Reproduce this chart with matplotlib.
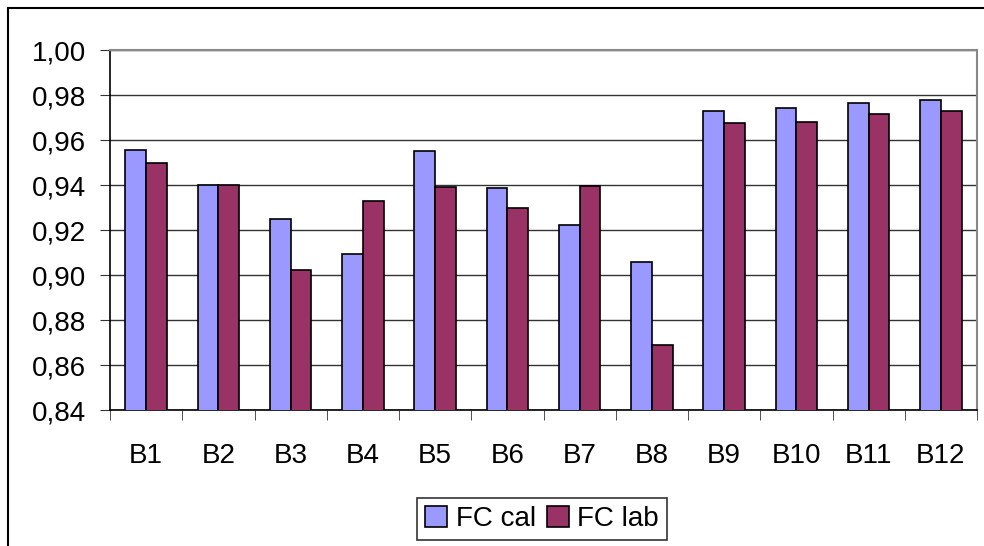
import matplotlib.pyplot as plt
import numpy as np

plt.rcParams['font.family'] = ['Liberation Sans', 'DejaVu Sans']

categories = ['B1', 'B2', 'B3', 'B4', 'B5', 'B6', 'B7', 'B8', 'B9', 'B10', 'B11', 'B12']
fc_cal = [0.9557, 0.940, 0.925, 0.9093, 0.9551, 0.9385, 0.9224, 0.9056, 0.9729, 0.9743, 0.9765, 0.9778]
fc_lab = [0.950, 0.940, 0.9022, 0.933, 0.9393, 0.930, 0.9394, 0.869, 0.9674, 0.968, 0.9715, 0.9729]
yticks = [0.84, 0.86, 0.88, 0.90, 0.92, 0.94, 0.96, 0.98, 1.00]

W, H = 984, 546
fig = plt.figure(figsize=(W / 100, H / 100), dpi=100)

# outer chart border (only left and top visible in the crop)
fig.add_artist(plt.Line2D([8 / W, 8 / W], [0, 1 - 8 / H], color='black', lw=1.5))
fig.add_artist(plt.Line2D([8 / W, 1], [1 - 8 / H, 1 - 8 / H], color='black', lw=1.5))

ax = fig.add_axes([110 / W, 1 - 410 / H, (977 - 110) / W, (410 - 50) / H])

x = np.arange(len(categories))
bw = 1 / 3.5
ax.bar(x - bw / 2, fc_cal, bw, bottom=0, color='#9999ff', edgecolor='black', lw=1.2, label='FC cal', zorder=3)
ax.bar(x + bw / 2, fc_lab, bw, bottom=0, color='#993366', edgecolor='black', lw=1.2, label='FC lab', zorder=3)

ax.set_xlim(-0.5, len(categories) - 0.5)
ax.set_ylim(0.84, 1.00)
ax.set_yticks(yticks)
ax.set_yticklabels([f'{v:.2f}'.replace('.', ',') for v in yticks], fontsize=20)
ax.yaxis.grid(True, color='#333333', lw=1, zorder=0)

ax.set_xticks(x)
ax.set_xticklabels(categories, fontsize=20)
ax.set_xticks(np.arange(-0.5, len(categories)), minor=True)
ax.tick_params(axis='x', which='major', length=0, pad=24)
ax.tick_params(axis='x', which='minor', length=7, direction='out', color='#333333')
ax.tick_params(axis='y', length=7, direction='out', pad=10, color='#333333')

for s in ['top', 'right']:
    ax.spines[s].set_color('#888888')
    ax.spines[s].set_linewidth(1.5)
for s in ['left', 'bottom']:
    ax.spines[s].set_color('black')
    ax.spines[s].set_linewidth(1.2)

leg = fig.legend(loc='center', bbox_to_anchor=(542 / W, 1 - 519 / H), ncol=2, fontsize=20,
                 frameon=True, fancybox=False, edgecolor='black', handlelength=0.8,
                 handleheight=0.8, handletextpad=0.3, columnspacing=0.4, borderpad=0.3)
leg.get_frame().set_linewidth(1.2)

fig.savefig('out.png', dpi=100)
